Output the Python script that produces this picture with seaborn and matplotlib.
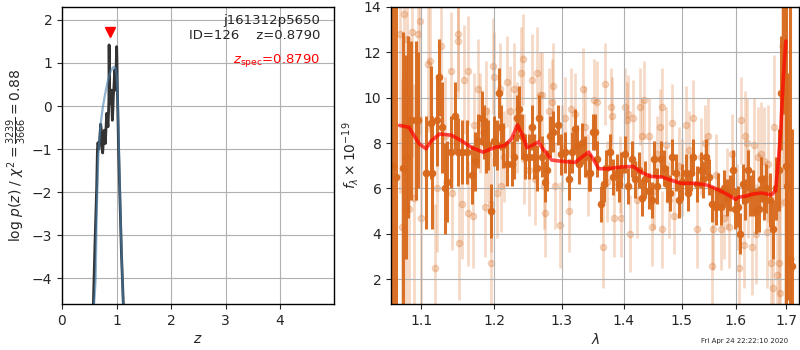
import matplotlib
matplotlib.use("Agg")
import matplotlib.pyplot as plt
import matplotlib.ticker as mticker
import numpy as np
import pandas as pd
import seaborn as sns

# ---------------- redshift probability ----------------
zgrid_fine = [0.56, 0.575, 0.605, 0.636, 0.650, 0.660, 0.675, 0.690, 0.710, 0.725,
              0.735, 0.746, 0.760, 0.777, 0.787, 0.795, 0.808, 0.820, 0.832, 0.844,
              0.852, 0.860, 0.864, 0.868, 0.872, 0.881, 0.893, 0.905, 0.914, 0.924,
              0.933, 0.942, 0.955, 0.967, 0.975, 0.985, 0.995, 1.003, 1.009, 1.015,
              1.027, 1.040, 1.064, 1.090, 1.125, 1.140]
logp_fine = [-6.0, -4.6, -3.2, -1.9, -1.0, -0.85, -1.0, -0.8, -0.42, -0.6,
             -0.95, -1.09, -0.8, -0.56, -0.75, -0.87, -0.5, -0.17, -0.3, -0.48,
             -0.2, 0.15, 1.42, 1.0, 0.3, 0.07, 0.3, 0.37, 0.0, -0.33,
             -0.1, 0.22, 0.5, 0.84, 0.37, 0.6, 1.0, 1.38, 1.0, 0.45,
             -0.3, -1.1, -2.2, -3.4, -4.6, -5.3]

zgrid_coarse = [0.56, 0.575, 0.60, 0.618, 0.635, 0.648, 0.665, 0.68, 0.70, 0.72,
                0.75, 0.78, 0.81, 0.84, 0.87, 0.90, 0.93, 0.96, 0.98, 1.00,
                1.015, 1.03, 1.045, 1.065, 1.09, 1.125, 1.14]
logp_coarse = [-6.2, -4.8, -4.4, -4.0, -2.6, -1.9, -1.2, -0.9, -0.55, -0.3,
               -0.02, 0.2, 0.4, 0.58, 0.72, 0.83, 0.89, 0.91, 0.88, 0.74,
               0.45, -0.2, -1.0, -2.1, -3.3, -4.7, -5.4]

z_best = 0.8790
logp_marker = 1.72
chi2_num, chi2_den = 3239, 3666

# ---------------- 1D spectrum ----------------
wave_hi = [1.0636, 1.0671, 1.076, 1.0805, 1.0822, 1.0858, 1.0925, 1.0956, 1.106, 1.112,
           1.114, 1.120, 1.123, 1.1266, 1.1312, 1.134, 1.1395, 1.145, 1.1496, 1.1551,
           1.161, 1.168, 1.1725, 1.177, 1.1817, 1.1854, 1.188, 1.1909, 1.1955, 1.1992,
           1.203, 1.2065, 1.210, 1.2125, 1.2175, 1.225, 1.229, 1.233, 1.236, 1.240,
           1.244, 1.250, 1.255, 1.2575, 1.2625, 1.266, 1.270, 1.274, 1.2775, 1.2825,
           1.2875, 1.294, 1.299, 1.3054, 1.3118, 1.316, 1.3203, 1.324, 1.3268, 1.3321,
           1.3375, 1.3428, 1.3455, 1.3492, 1.3535, 1.3562, 1.3632, 1.3669, 1.3706, 1.3776,
           1.3829, 1.3883, 1.392, 1.3963, 1.4029, 1.4076, 1.4135, 1.4193, 1.4252, 1.431,
           1.4369, 1.4427, 1.4486, 1.4521, 1.4573, 1.4632, 1.469, 1.4737, 1.479, 1.4825,
           1.4895, 1.4953, 1.5012, 1.5074, 1.5123, 1.5166, 1.5208, 1.5288, 1.5349, 1.5392,
           1.5441, 1.5503, 1.5564, 1.5625, 1.5675, 1.5718, 1.5779, 1.5841, 1.5902, 1.5945,
           1.5994, 1.6044, 1.6088, 1.6132, 1.6182, 1.6233, 1.6277, 1.634, 1.639, 1.6447,
           1.6497, 1.6547, 1.6591, 1.6673, 1.6736, 1.678, 1.6843, 1.6887, 1.6937, 1.700,
           1.702, 1.7064, 1.7109]
flux_hi = [7.0, 6.5, 6.9, 7.4, 8.7, 9.0, 9.0, 9.0, 6.7, 8.9,
           6.7, 9.0, 10.9, 8.7, 6.0, 6.3, 7.6, 9.2, 7.6, 7.6,
           7.6, 6.6, 7.2, 8.1, 9.1, 8.5, 7.9, 7.9, 5.0, 8.1,
           7.9, 10.2, 8.7, 7.9, 7.1, 7.1, 7.4, 9.1, 9.5, 8.3,
           7.4, 7.4, 8.7, 7.4, 6.9, 9.1, 7.4, 6.3, 6.8, 8.3,
           8.5, 8.8, 7.5, 7.6, 6.4, 7.6, 8.6, 7.9, 7.1, 8.0,
           7.4, 6.7, 6.7, 8.5, 8.5, 7.3, 5.3, 6.2, 6.9, 7.6,
           6.5, 6.7, 6.2, 6.8, 7.5, 6.1, 7.3, 6.4, 6.8, 5.6,
           6.4, 5.9, 5.5, 7.3, 6.1, 7.3, 6.9, 6.2, 5.8, 7.4,
           6.7, 5.5, 6.3, 6.7, 5.8, 6.7, 7.4, 6.2, 6.8, 6.4,
           7.4, 6.5, 5.3, 5.2, 5.9, 5.2, 6.0, 5.6, 5.8, 6.8,
           5.1, 5.2, 4.0, 6.2, 5.5, 6.8, 5.7, 5.8, 5.0, 5.1,
           6.4, 5.6, 6.0, 5.5, 4.2, 6.0, 6.8, 10.2, 12.3, 7.0,
           6.1, 2.9, 2.6]
err_hi = [12.0, 12.0, 6.0, 4.5, 4.0, 3.5, 3.5, 3.0, 2.5, 2.5,
          2.5, 2.0, 1.7, 2.0, 2.0, 1.8, 1.6, 1.5, 1.5, 1.4,
          1.4, 1.3, 1.3, 1.2, 1.2, 1.2, 1.2, 1.1, 1.2, 1.1,
          1.1, 1.1, 1.0, 1.0, 1.0, 1.0, 1.0, 1.0, 1.0, 1.0,
          1.0, 1.0, 1.0, 1.0, 1.0, 1.0, 0.9, 0.9, 0.9, 0.9,
          0.9, 0.9, 0.9, 0.9, 0.9, 0.9, 0.9, 0.9, 0.9, 0.9,
          0.9, 0.8, 0.8, 0.8, 0.8, 0.8, 0.8, 0.8, 0.8, 0.8,
          0.8, 0.8, 0.8, 0.8, 0.8, 0.8, 0.8, 0.8, 0.8, 0.8,
          0.8, 0.8, 0.8, 0.8, 0.8, 0.8, 0.8, 0.8, 0.8, 0.8,
          0.8, 0.8, 0.8, 0.8, 0.8, 0.8, 0.8, 0.8, 0.8, 0.8,
          0.8, 0.8, 0.8, 0.8, 0.8, 0.8, 0.8, 0.8, 0.8, 0.9,
          0.9, 0.9, 0.9, 0.9, 0.9, 0.9, 0.9, 1.0, 1.0, 1.0,
          1.0, 1.0, 1.1, 1.2, 1.3, 1.4, 1.8, 2.5, 3.0, 12.0,
          5.0, 12.0, 6.0]

wave_lo = [1.0725, 1.0747, 1.0769, 1.0796, 1.0814, 1.0836, 1.088, 1.0902, 1.0956, 1.0982,
           1.099, 1.1083, 1.1119, 1.1174, 1.1211, 1.1257, 1.1312, 1.1395, 1.1413, 1.1487,
           1.1496, 1.151, 1.1551, 1.1578, 1.1624, 1.1633, 1.1702, 1.171, 1.1771, 1.1794,
           1.1872, 1.1886, 1.1909, 1.1946, 1.195, 1.1978, 1.200, 1.204, 1.2075, 1.210,
           1.214, 1.2175, 1.2225, 1.2285, 1.2325, 1.239, 1.241, 1.243, 1.250, 1.255,
           1.260, 1.262, 1.2675, 1.2705, 1.273, 1.275, 1.280, 1.285, 1.2875, 1.290,
           1.2975, 1.300, 1.3054, 1.3118, 1.315, 1.3214, 1.3332, 1.3375, 1.3417, 1.3508,
           1.3562, 1.3653, 1.3685, 1.3728, 1.3792, 1.3813, 1.3834, 1.3941, 1.3963, 1.4018,
           1.4053, 1.4076, 1.4111, 1.4164, 1.4222, 1.4275, 1.431, 1.4339, 1.4427, 1.4474,
           1.4515, 1.4573, 1.4614, 1.4649, 1.4661, 1.472, 1.4778, 1.4836, 1.4866, 1.4953,
           1.5012, 1.5086, 1.5135, 1.5208, 1.5288, 1.5349, 1.5429, 1.5478, 1.5552, 1.5576,
           1.5625, 1.5718, 1.5779, 1.5841, 1.5871, 1.5933, 1.6025, 1.6069, 1.6107, 1.6151,
           1.6182, 1.6214, 1.6245, 1.6321, 1.6359, 1.6403, 1.6434, 1.6497, 1.656, 1.661,
           1.6635, 1.6686, 1.6736, 1.6749, 1.6799, 1.6843, 1.6874, 1.6906, 1.695, 1.6969]
flux_lo = [12.8, 4.3, 13.7, 5.1, 12.6, 5.1, 12.9, 5.6, 12.8, 13.4,
           4.7, 11.5, 11.6, 2.5, 6.0, 12.3, 8.3, 11.2, 5.8, 12.8,
           12.5, 3.6, 5.3, 10.8, 11.2, 4.9, 4.8, 8.8, 10.4, 8.9,
           5.2, 9.4, 7.5, 2.7, 5.3, 11.4, 10.9, 5.8, 10.4, 6.1,
           7.4, 10.7, 9.4, 10.4, 8.7, 11.1, 11.7, 7.3, 6.8, 10.8,
           6.4, 11.1, 10.1, 10.1, 6.1, 4.9, 9.4, 9.8, 10.5, 6.1,
           4.4, 7.8, 9.1, 5.0, 9.5, 9.3, 10.4, 8.7, 6.6, 9.9,
           9.8, 3.4, 10.6, 6.3, 9.6, 9.2, 4.7, 6.6, 4.7, 9.6,
           9.0, 9.3, 4.0, 9.1, 5.5, 9.6, 8.3, 9.9, 8.3, 4.3,
           5.9, 7.5, 8.7, 9.6, 4.2, 7.9, 5.5, 8.9, 4.8, 7.0,
           6.5, 8.8, 7.7, 9.1, 4.2, 7.4, 8.0, 8.3, 2.6, 4.2,
           6.6, 4.2, 4.7, 6.0, 4.3, 7.5, 5.2, 2.5, 9.0, 3.5,
           8.3, 8.0, 5.8, 3.4, 7.9, 4.0, 7.4, 7.5, 7.2, 4.1,
           7.1, 2.7, 1.6, 8.7, 2.2, 2.7, 1.4, 10.2, 12.1, 5.4]
err_lo = [7.0, 6.5, 7.0, 6.0, 6.0, 5.5, 5.5, 5.0, 5.0, 5.0,
          4.5, 3.0, 3.0, 2.8, 2.8, 2.8, 2.6, 2.6, 2.5, 2.5,
          2.5, 2.5, 2.4, 2.4, 2.4, 2.3, 2.3, 2.3, 2.2, 2.2,
          2.2, 2.2, 2.1, 2.1, 2.1, 2.1, 2.0, 2.0, 2.0, 2.0,
          2.0, 2.0, 2.0, 2.0, 2.0, 2.0, 2.0, 2.0, 2.0, 2.0,
          2.0, 2.0, 1.9, 1.9, 1.9, 1.9, 1.9, 1.9, 1.9, 1.9,
          1.9, 1.9, 1.8, 1.8, 1.8, 1.8, 1.8, 1.8, 1.8, 1.8,
          1.8, 1.8, 1.8, 1.8, 1.7, 1.7, 1.7, 1.7, 1.7, 1.7,
          1.7, 1.7, 1.7, 1.7, 1.7, 1.7, 1.7, 1.7, 1.7, 1.7,
          1.7, 1.7, 1.7, 1.7, 1.7, 1.7, 1.7, 1.7, 1.7, 1.7,
          1.7, 1.7, 1.7, 1.7, 1.7, 1.7, 1.7, 1.7, 1.8, 1.8,
          1.8, 1.8, 1.8, 1.8, 1.8, 1.8, 1.9, 1.9, 1.9, 1.9,
          2.0, 2.0, 2.0, 2.1, 2.1, 2.2, 2.2, 2.3, 2.4, 2.5,
          2.6, 2.8, 3.0, 3.2, 3.5, 3.8, 4.2, 5.0, 6.0, 7.0]

wave_model = [1.0716, 1.0836, 1.097, 1.106, 1.113, 1.124, 1.140, 1.154, 1.168, 1.184,
              1.200, 1.215, 1.225, 1.2335, 1.240, 1.2475, 1.255, 1.265, 1.270, 1.285,
              1.300, 1.3214, 1.335, 1.343, 1.351, 1.359, 1.375, 1.396, 1.416, 1.431,
              1.4456, 1.466, 1.4836, 1.498, 1.5196, 1.544, 1.5564, 1.5749, 1.587, 1.600,
              1.6057, 1.618, 1.634, 1.650, 1.6698, 1.678, 1.6843, 1.6887, 1.6937, 1.6987]
flux_model = [8.78, 8.7, 7.97, 7.75, 8.1, 8.4, 8.35, 8.1, 7.8, 7.6,
              7.8, 7.9, 8.2, 8.8, 8.4, 7.8, 7.9, 8.05, 7.8, 7.25,
              7.2, 7.15, 7.45, 7.6, 7.25, 6.87, 6.87, 6.95, 6.97, 6.7,
              6.53, 6.5, 6.35, 6.23, 6.23, 6.16, 6.06, 5.85, 5.7, 5.52,
              5.62, 5.65, 5.76, 5.8, 5.72, 5.9, 7.4, 8.7, 10.9, 12.5]

lam_ticks = [1.1, 1.2, 1.3, 1.4, 1.5, 1.6, 1.7]
timestamp = "Fri Apr 24 22:22:10 2020"

# ---------------- figure ----------------
sns.set_style("ticks")
plt.rcParams["font.family"] = ["DejaVu Sans"]
plt.rcParams["mathtext.fontset"] = "dejavusans"

fig = plt.figure(figsize=(8, 3.5), dpi=100)
ax1 = fig.add_axes([0.0775, 0.131, 0.340, 0.849])
ax2 = fig.add_axes([0.489, 0.131, 0.510, 0.849])

data_color = "#d8691c"

# left panel: p(z)
pz_fine = pd.DataFrame({"z": zgrid_fine, "logp": logp_fine})
pz_coarse = pd.DataFrame({"z": zgrid_coarse, "logp": logp_coarse})
sns.lineplot(data=pz_fine, x="z", y="logp", ax=ax1, color="#333333", lw=2.0,
             sort=False, zorder=3)
sns.lineplot(data=pz_coarse, x="z", y="logp", ax=ax1, color="steelblue", lw=1.6,
             alpha=0.6, sort=False, zorder=4)
ax1.plot([z_best], [logp_marker], marker="v", color="red", ms=7, ls="none", zorder=5)

ax1.set_xlim(0, 4.99)
ax1.set_ylim(-4.6, 2.3)
ax1.set_xticks([0, 1, 2, 3, 4])
ax1.set_yticks([-4, -3, -2, -1, 0, 1, 2])
ax1.grid(True, color="#b0b0b0", lw=0.8)
ax1.set_axisbelow(True)
ax1.set_xlabel("$z$", fontsize=10, labelpad=3)
ax1.set_ylabel(r"log $p(z)$ / $\chi^2=\frac{%d}{%d}=%.2f$"
               % (chi2_num, chi2_den, chi2_num / chi2_den), fontsize=10, labelpad=2)
ax1.text(0.95, 0.975, "j161312p5650\nID=126    z=%.4f" % z_best,
         transform=ax1.transAxes, ha="right", va="top", fontsize=9.5,
         linespacing=1.15)
ax1.text(0.95, 0.82, r"$z_\mathrm{spec}$=%.4f" % z_best, transform=ax1.transAxes,
         ha="right", va="center", fontsize=9.5, color="red")

# right panel: spectrum
ax2.errorbar(wave_lo, flux_lo, yerr=err_lo, color=data_color, alpha=0.25,
             marker=".", ms=9, ls="none", elinewidth=2.0, zorder=2)
ax2.errorbar(wave_hi, flux_hi, yerr=err_hi, color=data_color, alpha=0.95,
             marker=".", ms=9, ls="none", elinewidth=2.2, zorder=3)
model = pd.DataFrame({"wave": wave_model, "flux": flux_model})
sns.lineplot(data=model, x="wave", y="flux", ax=ax2, color="red", lw=2.6,
             alpha=0.7, sort=False, zorder=5)

ax2.set_xscale("log")
ax2.set_xlim(1.061, 1.726)
ax2.set_ylim(0.9, 14)
ax2.xaxis.set_major_locator(mticker.FixedLocator(lam_ticks))
ax2.xaxis.set_major_formatter(mticker.FormatStrFormatter("%.1f"))
ax2.xaxis.set_minor_locator(mticker.NullLocator())
ax2.set_yticks([2, 4, 6, 8, 10, 12, 14])
ax2.grid(True, color="#b0b0b0", lw=0.8, zorder=4)
ax2.set_axisbelow(False)
ax2.set_xlabel(r"$\lambda$", fontsize=10, labelpad=3)
ax2.set_ylabel(r"$f_\lambda \times 10^{-19}$", fontsize=10, labelpad=2)

for ax in (ax1, ax2):
    ax.tick_params(labelsize=10, length=3.5, width=0.8)
    for sp in ax.spines.values():
        sp.set_linewidth(1.0)
        sp.set_color("black")
        sp.set_zorder(6)

fig.text(0.876, 0.027, timestamp, fontsize=5, ha="left", va="center")

fig.savefig("out.png", dpi=100)
